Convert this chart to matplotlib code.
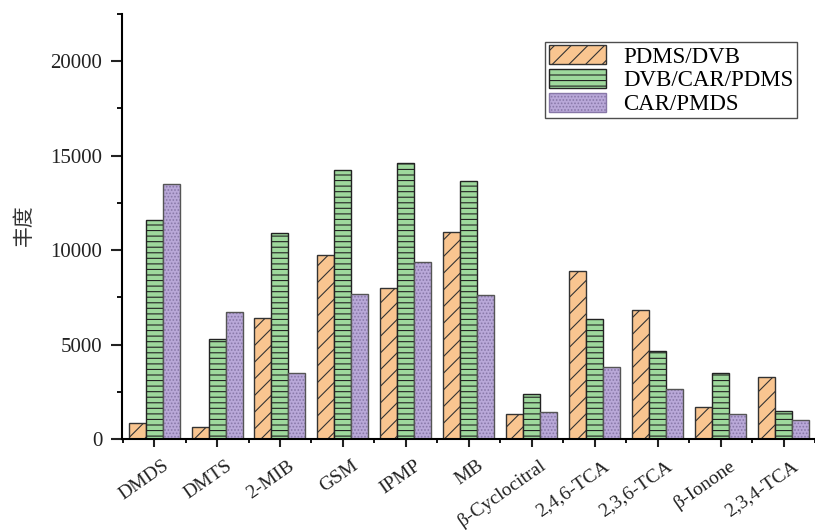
import matplotlib
matplotlib.use("Agg")
import matplotlib.pyplot as plt
import numpy as np
from matplotlib.patches import Patch
from matplotlib.ticker import MultipleLocator
from matplotlib.transforms import ScaledTranslation

categories = ["DMDS", "DMTS", "2-MIB", "GSM", "IPMP", "MB", "β-Cyclocitral",
              "2,4,6-TCA", "2,3,6-TCA", "β-Ionone", "2,3,4-TCA"]
pdms_dvb = [850, 650, 6400, 9750, 8000, 10950, 1300, 8900, 6830, 1700, 3300]
dvb_car_pdms = [11600, 5300, 10900, 14250, 14600, 13650, 2400, 6330, 4650, 3480, 1500]
car_pmds = [13500, 6750, 3500, 7700, 9350, 7600, 1450, 3830, 2630, 1300, 1000]
series_names = ["PDMS/DVB", "DVB/CAR/PDMS", "CAR/PMDS"]

plt.rcParams['font.family'] = ['Liberation Serif', 'DejaVu Serif']
plt.rcParams['hatch.linewidth'] = 0.8

fig = plt.figure(figsize=(8.15, 5.30), dpi=100)
W, H = 815, 530
ax = fig.add_axes([122 / W, 91 / H, (815 - 122) / W, (439 - 14) / H])

c_or = "#F9C590"
c_gr = "#9ED89C"
c_pu = "#B9A8D8"
edge = "#333333"

x = np.arange(len(categories))
w = 0.27

ax.bar(x - w, pdms_dvb, w, color=c_or, edgecolor=edge, linewidth=1.0, hatch="//")
ax.bar(x, dvb_car_pdms, w, color=c_gr, edgecolor="#222222", linewidth=1.0, hatch="---")
ax.bar(x + w, car_pmds, w, color=c_pu, edgecolor="#8878a8", linewidth=0, hatch=".....")
ax.bar(x + w, car_pmds, w, fill=False, edgecolor="#555555", linewidth=1.0)

ax.set_xlim(-0.51, 10.47)
ax.set_ylim(0, 22500)

for s in ["top", "right"]:
    ax.spines[s].set_visible(False)
for s in ["left", "bottom"]:
    ax.spines[s].set_linewidth(1.5)

ax.yaxis.set_major_locator(MultipleLocator(5000))
ax.yaxis.set_minor_locator(MultipleLocator(2500))
ax.set_xticks(x)
ax.set_xticks(np.arange(-0.5, len(categories), 1.0), minor=True)
ax.tick_params(axis="y", which="major", length=8.2, width=1.5, direction="out",
               labelsize=15, pad=6, colors="#222222")
ax.tick_params(axis="y", which="minor", length=3.8, width=1.3, direction="out")
ax.tick_params(axis="x", which="major", length=5.6, width=1.5, direction="out",
               labelsize=14, pad=2, colors="#222222")
ax.tick_params(axis="x", which="minor", length=2.8, width=1.3, direction="out")

ax.set_xticklabels(categories, rotation=35, ha="right", rotation_mode="anchor", va="center")
offset = ScaledTranslation(9.4 / 72, -10.4 / 72, fig.dpi_scale_trans)
for lab in ax.get_xticklabels():
    lab.set_transform(lab.get_transform() + offset)

fig.text(24 / W, 1 - 225 / H, "丰度", rotation=90, ha="center", va="center",
         fontsize=15, family=["Noto Sans CJK SC", "DejaVu Sans"], color="#333333")

handles = [
    Patch(facecolor=c_or, edgecolor=edge, linewidth=1.0, hatch="//"),
    Patch(facecolor=c_gr, edgecolor="#222222", linewidth=1.0, hatch="---"),
    Patch(facecolor=c_pu, edgecolor="#8878a8", linewidth=1.0, hatch="....."),
]
leg = fig.legend(handles, series_names, loc="upper right",
                 bbox_to_anchor=(797 / W, 1 - 42 / H), bbox_transform=fig.transFigure,
                 fontsize=16.5, frameon=True, fancybox=False, edgecolor="#222222",
                 handlelength=2.5, handleheight=0.9, labelspacing=0.05,
                 handletextpad=0.75, borderpad=0.15, borderaxespad=0)
leg.get_frame().set_linewidth(1.0)

fig.savefig("out.png", dpi=100)
